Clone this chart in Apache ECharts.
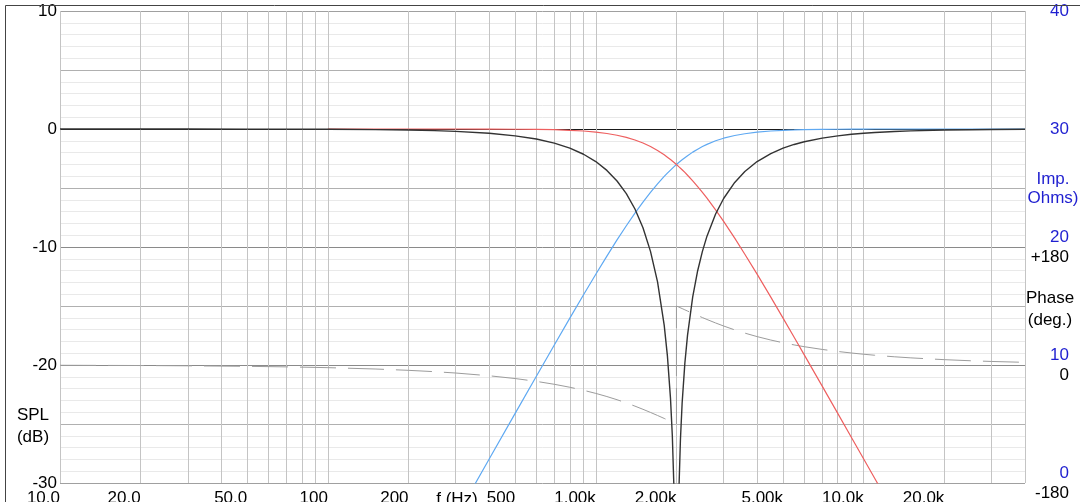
<!DOCTYPE html>
<html><head><meta charset="utf-8">
<script src="https://cdn.jsdelivr.net/npm/echarts@6/dist/echarts.min.js"></script>
<style>html,body{margin:0;padding:0;background:#fff}#c{width:1080px;height:502px}</style>
</head><body><div id="c"></div>
<script>
// ---- data (frequency in Hz, levels in dB, phase in degrees) ----
const freqHz = [10,20,30,50,70,100,150,200,250,300,400,500,600,700,800,900,1000,1100,1200,1300,1400,1500,1600,1700,1800,1850,1900,1930,1960,1980,1990,2000,2010,2020,2040,2070,2100,2150,2200,2300,2400,2500,2600,2800,3000,3300,3600,4000,4500,5000,5500,6000,7000,8000,9000,10000,11000,12000,13000,15000,20000,25000,30000,40000];
const lowpassDb = [null,null,null,null,null,0,0,0,0,0,-0.01,-0.02,-0.04,-0.06,-0.11,-0.17,-0.26,-0.38,-0.53,-0.71,-0.93,-1.19,-1.49,-1.82,-2.19,-2.39,-2.59,-2.71,-2.84,-2.92,-2.97,-3.01,-3.05,-3.10,-3.19,-3.32,-3.45,-3.68,-3.92,-4.39,-4.88,-5.37,-5.86,-6.85,-7.83,-9.25,-10.61,-12.30,-14.25,-16.03,-17.65,-19.14,-21.79,-24.10,-26.14,-27.97,-29.62,-31.13,-32.52,-35.00,-40.00,-43.88,-47.04,-52.04];
const highpassDb = [-92.04,-80.00,-72.96,-64.08,-58.24,-52.04,-45.00,-40.00,-36.12,-32.96,-27.97,-24.10,-20.95,-18.30,-16.03,-14.05,-12.31,-10.77,-9.40,-8.20,-7.13,-6.19,-5.37,-4.65,-4.02,-3.74,-3.48,-3.33,-3.19,-3.10,-3.05,-3.01,-2.97,-2.92,-2.84,-2.72,-2.61,-2.43,-2.26,-1.96,-1.71,-1.49,-1.30,-1.00,-0.78,-0.55,-0.40,-0.26,-0.17,-0.11,-0.08,-0.05,-0.03,-0.02,-0.01,-0.01,0,0,0,0,0,0,0,0];
const sumDb = [0,0,0,-0.01,-0.01,-0.02,-0.05,-0.09,-0.14,-0.20,-0.36,-0.58,-0.85,-1.20,-1.62,-2.14,-2.76,-3.51,-4.41,-5.48,-6.78,-8.37,-10.37,-12.96,-16.62,-19.20,-22.81,-25.96,-30.88,-36.95,-42.99,-90,-43.03,-37.03,-31.06,-26.27,-23.24,-19.84,-17.47,-14.22,-12.01,-10.37,-9.08,-7.20,-5.89,-4.53,-3.60,-2.76,-2.08,-1.62,-1.31,-1.08,-0.77,-0.58,-0.45,-0.36,-0.30,-0.25,-0.21,-0.16,-0.09,-0.06,-0.04,-0.02];
const phaseFreqHz = [10,20,30,50,70,100,150,200,250,300,400,500,600,700,800,900,1000,1100,1200,1300,1400,1500,1600,1700,1800,1850,1900,1930,1960,1980,1990,2000,2000,2010,2020,2040,2070,2100,2150,2200,2300,2400,2500,2600,2800,3000,3300,3600,4000,4500,5000,5500,6000,7000,8000,9000,10000,11000,12000,13000,15000,20000,25000,30000,40000];
const phaseDeg = [-0.41,-0.81,-1.22,-2.03,-2.84,-4.05,-6.09,-8.13,-10.18,-12.24,-16.42,-20.66,-25.00,-29.42,-33.96,-38.59,-43.31,-48.12,-52.97,-57.86,-62.74,-67.58,-72.35,-77.00,-81.51,-83.70,-85.85,-87.11,-88.36,-89.19,-89.60,-90,90,89.60,89.19,88.40,87.21,86.05,84.16,82.31,78.78,75.46,72.35,69.43,64.13,59.49,53.56,48.65,43.31,38.07,33.96,30.65,27.93,23.75,20.66,18.30,16.42,14.89,13.63,12.56,10.87,8.13,6.50,5.41,4.05];

// ---- tick labels ----
const splTicks = [-30,-20,-10,0,10];
const impTicks = [0,10,20,30,40];
const phaseTickValues = [-180,0,180];
const phaseTickLabels = ['-180','0','+180'];
const freqTickValues = [10,20,50,100,200,500,1000,2000,5000,10000,20000];
const freqTickLabels = ['10.0','20.0','50.0','100','200','500','1.00k','2.00k','5.00k','10.0k','20.0k'];

const FONT = '"Liberation Sans", Arial, sans-serif';
const FS = 17;
const IMP_BLUE = '#1f1fd0';

// vertical grid lines at 1..9 x each decade, plus the right edge
const gridFreqs = [];
[10,100,1000,10000].forEach(d => { for (let m = 1; m <= 9; m++) { if (d*m <= 40000) gridFreqs.push(d*m); } });
gridFreqs.push(40000);
const gridData = gridFreqs.map(f => {
  const k = freqTickValues.indexOf(f);
  return { xAxis: f, label: k >= 0 ? { show: true, formatter: freqTickLabels[k] } : { show: false } };
});

const pairs = (xs, ys) => xs.map((x, i) => [x, ys[i]]);
const lineBase = { type: 'line', showSymbol: false, symbol: 'none', silent: true, animation: false, emphasis: { disabled: true }, xAxisIndex: 0 };

const chart = echarts.init(document.getElementById('c'), null, { renderer: 'canvas' });
chart.setOption({
  backgroundColor: '#fff',
  animation: false,
  grid: { left: 60, right: 55, top: 11, bottom: 19, containLabel: false, outerBoundsMode: 'none' },
  xAxis: [{
    type: 'log', logBase: 10, min: 10, max: 40000,
    axisLine: { show: false }, axisTick: { show: false }, axisLabel: { show: false },
    splitLine: { show: false }
  }],
  yAxis: [
    {
      type: 'value', min: -30, max: 10, interval: 5, position: 'left',
      axisLine: { show: false }, axisTick: { show: false },
      axisLabel: { margin: 3, color: '#000', fontSize: FS, fontFamily: FONT,
        formatter: v => splTicks.includes(v) ? String(v) : '' },
      splitLine: { show: true, lineStyle: { width: 1, color: ['#a0a0a0','#b0b0b0','#8a8a8a','#b0b0b0','#8a8a8a','#b0b0b0','#1a1a1a','#b0b0b0','#a0a0a0'] } },
      minorTick: { show: false, splitNumber: 5 },
      minorSplitLine: { show: true, lineStyle: { color: '#e9e9e9', width: 1 } }
    },
    {
      type: 'value', min: 0, max: 40, interval: 10, position: 'right',
      axisLine: { show: false }, axisTick: { show: false }, splitLine: { show: false },
      axisLabel: { margin: 44, align: 'right', color: IMP_BLUE, fontSize: FS, fontFamily: FONT,
        formatter: v => impTicks.includes(v) ? (v < 30 ? '{u|' + v + '}' : '{n|' + v + '}') : '',
        rich: {
          u: { color: IMP_BLUE, fontSize: FS, fontFamily: FONT, padding: [0, 0, 20, 0] },
          n: { color: IMP_BLUE, fontSize: FS, fontFamily: FONT }
        } }
    },
    {
      type: 'value', min: -180, max: 540, interval: 180, position: 'right',
      axisLine: { show: false }, axisTick: { show: false }, splitLine: { show: false },
      axisLabel: { margin: 44, align: 'right', color: '#000', fontSize: FS, fontFamily: FONT,
        formatter: v => { const k = phaseTickValues.indexOf(v); return k >= 0 ? '{d|' + phaseTickLabels[k] + '}' : ''; },
        rich: { d: { color: '#000', fontSize: FS, fontFamily: FONT, padding: [20, 0, 0, 0] } } }
    }
  ],
  series: [
    Object.assign({}, lineBase, {
      name: 'grid', data: [], z: 1,
      markLine: {
        z: 1, silent: true, animation: false, symbol: ['none', 'none'],
        lineStyle: { color: '#c4c4c4', width: 1, type: 'solid' },
        emphasis: { disabled: true },
        label: { position: 'start', distance: 7, align: 'right', color: '#000', fontSize: FS, fontFamily: FONT },
        data: gridData
      }
    }),
    Object.assign({}, lineBase, { name: 'Phase', yAxisIndex: 2, z: 3, data: pairs(phaseFreqHz, phaseDeg),
      lineStyle: { color: '#9c9c9c', width: 1, type: [36, 12] } }),
    Object.assign({}, lineBase, { name: 'High pass', yAxisIndex: 0, z: 3, data: pairs(freqHz, highpassDb),
      lineStyle: { color: '#5fa9f2', width: 1.2 } }),
    Object.assign({}, lineBase, { name: 'Low pass', yAxisIndex: 0, z: 3, data: pairs(freqHz, lowpassDb),
      lineStyle: { color: '#ee5f5f', width: 1.2 } }),
    Object.assign({}, lineBase, { name: 'Sum', yAxisIndex: 0, z: 4, data: pairs(freqHz, sumDb),
      lineStyle: { color: '#333333', width: 1.4 } })
  ],
  graphic: [
    { type: 'rect', z: 20, silent: true, shape: { x: 5.5, y: 5.5, width: 1200, height: 600 },
      style: { fill: 'none', stroke: '#444', lineWidth: 1 } },
    { type: 'text', z: 20, silent: true, x: 33, y: 426,
      style: { text: 'SPL\n(dB)', font: FS + 'px ' + FONT, fill: '#000', align: 'center', verticalAlign: 'middle', textAlign: 'center', textVerticalAlign: 'middle', lineHeight: 22 } },
    { type: 'text', z: 20, silent: true, x: 1053, y: 189,
      style: { text: 'Imp.\nOhms)', font: FS + 'px ' + FONT, fill: IMP_BLUE, align: 'center', verticalAlign: 'middle', textAlign: 'center', textVerticalAlign: 'middle', lineHeight: 19 } },
    { type: 'text', z: 20, silent: true, x: 1050, y: 309,
      style: { text: 'Phase\n(deg.)', font: FS + 'px ' + FONT, fill: '#000', align: 'center', verticalAlign: 'middle', textAlign: 'center', textVerticalAlign: 'middle', lineHeight: 22 } },
    { type: 'text', z: 20, silent: true, x: 457, y: 499,
      style: { text: 'f (Hz)', font: FS + 'px ' + FONT, fill: '#000', align: 'center', verticalAlign: 'middle', textAlign: 'center', textVerticalAlign: 'middle' } }
  ]
});
</script>
</body></html>
